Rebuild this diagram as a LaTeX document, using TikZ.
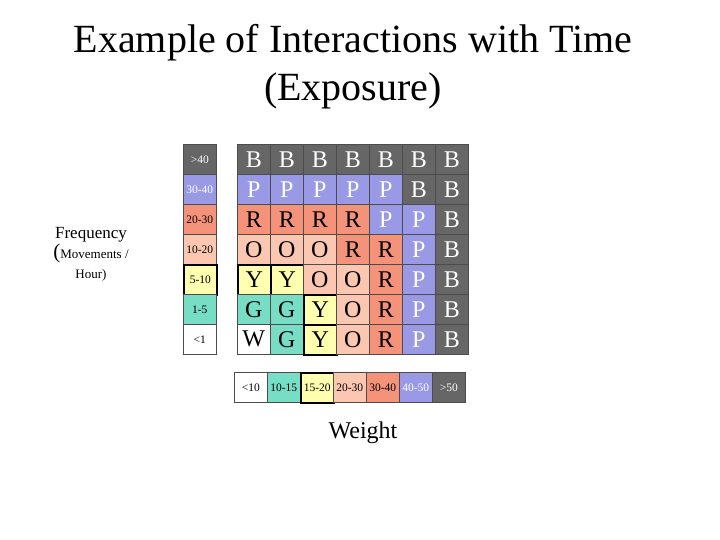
\documentclass[tikz,border=0pt]{standalone}
\usepackage{fontspec}
\setmainfont{Liberation Serif}
\begin{document}
\begin{tikzpicture}[x=1pt,y=-1pt,
  cell/.style={draw=black!70,line width=0.6pt,minimum width=33pt,minimum height=30pt,inner sep=0pt,anchor=north west,font=\fontsize{24}{24}\selectfont},
  lab/.style={draw=black!70,line width=0.6pt,minimum width=33pt,minimum height=30pt,inner sep=0pt,anchor=north west,font=\fontsize{11.5}{11.5}\selectfont},
  cB/.style={fill=colB,text=white}, cP/.style={fill=colP,text=white},
  cR/.style={fill=colR}, cO/.style={fill=colO}, cY/.style={fill=colY,draw=black,line width=1.6pt},
  cG/.style={fill=colG}, cW/.style={fill=white}]
\definecolor{colB}{HTML}{666666}
\definecolor{colP}{HTML}{9999E6}
\definecolor{colR}{HTML}{F4937A}
\definecolor{colO}{HTML}{FCC7B0}
\definecolor{colY}{HTML}{FFFFB0}
\definecolor{colG}{HTML}{77DDC5}
\useasboundingbox (0,0) rectangle (720,540);
\node (title) at (353,67) [align=center,font=\fontsize{40}{48}\selectfont] {Example of Interactions with Time\\(Exposure)};
\node (freq) at (91,254) [align=center,font=\fontsize{17}{20}\selectfont] {Frequency\\{\fontsize{21}{20}\selectfont(}{\fontsize{13}{20}\selectfont Movements /}\\{\fontsize{13}{15}\selectfont Hour)}};
\node (weight) at (363,433) [font=\fontsize{24}{26}\selectfont] {Weight};
% left labels
\node[lab,cB] (l1) at (183,144) {>40};
\node[lab,cP] (l2) at (183,174) {30-40};
\node[lab,cR] (l3) at (183,204) {20-30};
\node[lab,cO] (l4) at (183,234) {10-20};
\node[lab,cY] (l5) at (183,264) {5-10};
\node[lab,cG] (l6) at (183,294) {1-5};
\node[lab,cW] (l7) at (183,324) {<1};
% bottom labels
\foreach \t/\s [count=\i from 0] in {<10/cW,10-15/cG,15-20/cY,20-30/cO,30-40/cR,40-50/cP,>50/cB}
  \node[lab,\s] (b\i) at (234+33*\i,372) {\t};
% grid
\foreach \row [count=\r from 0] in {
  {B/cB,B/cB,B/cB,B/cB,B/cB,B/cB,B/cB},
  {P/cP,P/cP,P/cP,P/cP,P/cP,B/cB,B/cB},
  {R/cR,R/cR,R/cR,R/cR,P/cP,P/cP,B/cB},
  {O/cO,O/cO,O/cO,R/cR,R/cR,P/cP,B/cB},
  {Y/cY,Y/cY,O/cO,O/cO,R/cR,P/cP,B/cB},
  {G/cG,G/cG,Y/cY,O/cO,R/cR,P/cP,B/cB},
  {W/cW,G/cG,Y/cY,O/cO,R/cR,P/cP,B/cB}}
  \foreach \t/\s [count=\c from 0] in \row
    \node[cell,\s] (g\r\c) at (237+33*\c,144+30*\r) {\t};
\end{tikzpicture}
\end{document}
